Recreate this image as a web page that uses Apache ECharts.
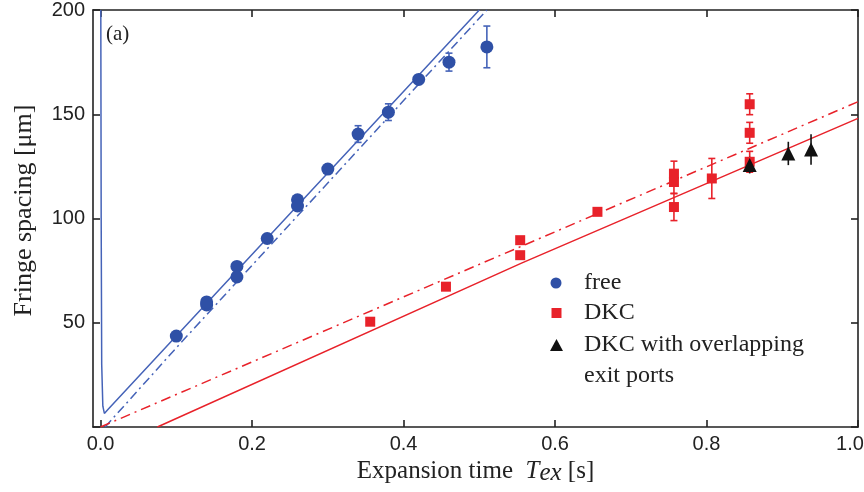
<!DOCTYPE html>
<html>
<head>
<meta charset="utf-8">
<script src="https://cdn.jsdelivr.net/npm/echarts@6/dist/echarts.min.js"></script>
<style>
html,body{margin:0;padding:0;background:#fff;}
#c{width:864px;height:492px;}
</style>
</head>
<body>
<div id="c"></div>
<script>
// ---- data ----
const xTicks = [0, 0.2, 0.4, 0.6, 0.8, 1.0];
const yTicks = [50, 100, 150, 200];

// free (blue circles)
const freeT   = [0.10, 0.14, 0.14, 0.18, 0.18, 0.22, 0.26, 0.26, 0.30, 0.34, 0.38, 0.42, 0.46, 0.51];
const freeY   = [43.6, 58.5, 60.0, 77.0, 72.0, 90.4, 109.0, 106.0, 123.7, 140.5, 151.0, 166.7, 175.0, 182.3];
const freeErr = [1.0, 1.5, 1.5, 1.5, 1.5, 1.5, 1.5, 1.5, 1.0, 4.0, 4.0, 1.5, 4.3, 10.0];

// DKC (red squares)
const dkcT   = [0.356, 0.456, 0.554, 0.554, 0.656, 0.757, 0.757, 0.757, 0.807, 0.857, 0.857, 0.857];
const dkcY   = [50.5, 67.3, 89.6, 82.4, 103.2, 121.5, 117.5, 105.5, 119.2, 154.8, 141.1, 127.2];
const dkcErr = [1.5, 1.5, 1.5, 1.0, 1.0, 6.0, 5.5, 6.5, 9.6, 5.0, 5.0, 5.0];

// DKC with overlapping exit ports (black triangles)
const overT   = [0.857, 0.908, 0.938];
const overY   = [125.6, 131.2, 133.1];
const overErr = [4.0, 5.6, 7.3];

// theory curves
const freeFitT  = [0.0003, 0.0008, 0.0015, 0.003, 0.005, 0.01, 0.5];
const freeFitY  = [200, 100, 30, 10, 6.5, 8.5, 200];
const freeFit2T = [0.006, 0.105, 0.51];
const freeFit2Y = [0, 40, 200];
const dkcFitT   = [0.075, 0.555, 1.0];
const dkcFitY   = [0, 78.5, 148];
const dkcFit2T  = [0.0, 1.0];
const dkcFit2Y  = [0, 156];

// ---- build ----
const zip = (a, b) => a.map((v, i) => [v, b[i]]);
const zip3 = (a, b, c) => a.map((v, i) => [v, b[i], c[i]]);

const BLUE = '#2f50a6', BLUE_L = '#4563b8', RED = '#e8222a', BLACK = '#111';
const SERIF = '"Liberation Serif","DejaVu Serif",serif';
const SANS = '"Liberation Sans",Arial,sans-serif';
const AX = '#222';

function errBar(color, cap) {
  return function (params, api) {
    const x = api.value(0), y = api.value(1), e = api.value(2);
    const p = api.coord([x, y - e]), q = api.coord([x, y + e]);
    const st = { stroke: color, lineWidth: 1.6 };
    const ch = [{ type: 'line', shape: { x1: p[0], y1: p[1], x2: q[0], y2: q[1] }, style: st }];
    if (cap > 0) {
      ch.push({ type: 'line', shape: { x1: p[0] - cap, y1: p[1], x2: p[0] + cap, y2: p[1] }, style: st });
      ch.push({ type: 'line', shape: { x1: q[0] - cap, y1: q[1], x2: q[0] + cap, y2: q[1] }, style: st });
    }
    return { type: 'group', children: ch };
  };
}

const axisLine = { show: true, onZero: false, lineStyle: { color: AX, width: 1.6 } };
const tickStyle = { color: AX, width: 1.6 };

const option = {
  animation: false,
  backgroundColor: '#fff',
  grid: { left: 93, right: 6, top: 10, bottom: 65, outerBoundsMode: 'none' },
  xAxis: [
    {
      type: 'value', min: -0.01, max: 1.0, position: 'bottom',
      axisLine: axisLine,
      axisTick: { inside: true, length: 7, customValues: xTicks, lineStyle: tickStyle },
      axisLabel: {
        customValues: xTicks,
        formatter: v => (v >= 0.999 ? '{r|' + v.toFixed(1) + '}' : v.toFixed(1)),
        fontSize: 20, color: AX, fontFamily: SANS, margin: 7,
        rich: { r: { fontSize: 20, color: AX, fontFamily: SANS, padding: [0, 16, 0, 0] } }
      },
      splitLine: { show: false },
      name: '{n|Expansion time  }{i|T}{j|ex}{n| [s]}',
      nameLocation: 'middle', nameGap: 30,
      nameTextStyle: {
        rich: {
          n: { fontSize: 25, fontFamily: SERIF, color: AX },
          i: { fontSize: 25, fontFamily: SERIF, fontStyle: 'italic', color: AX },
          j: { fontSize: 25, fontFamily: SERIF, fontStyle: 'italic', color: AX, padding: [4, 0, 0, 0] }
        }
      }
    },
    {
      type: 'value', min: -0.01, max: 1.0, position: 'top',
      axisLine: axisLine,
      axisTick: { inside: true, length: 7, customValues: xTicks, lineStyle: tickStyle },
      axisLabel: { show: false },
      splitLine: { show: false }
    }
  ],
  yAxis: [
    {
      type: 'value', min: 0, max: 200, interval: 50, position: 'left',
      axisLine: axisLine,
      axisTick: { inside: true, length: 7, lineStyle: tickStyle },
      axisLabel: { formatter: v => (v === 0 ? '' : String(v)), fontSize: 20, color: AX, fontFamily: SANS, margin: 8 },
      splitLine: { show: false },
      name: 'Fringe spacing [μm]', nameLocation: 'middle', nameGap: 56,
      nameTextStyle: { fontSize: 26, fontFamily: SERIF, color: AX, padding: [0, 0, 0, 16] }
    },
    {
      type: 'value', min: 0, max: 200, interval: 50, position: 'right',
      axisLine: axisLine,
      axisTick: { inside: true, length: 7, lineStyle: tickStyle },
      axisLabel: { show: false },
      splitLine: { show: false }
    }
  ],
  series: [
    { type: 'line', data: zip(freeFitT, freeFitY), showSymbol: false, symbol: 'none', lineStyle: { color: BLUE_L, width: 1.5 }, z: 2, silent: true },
    { type: 'line', data: zip(freeFit2T, freeFit2Y), showSymbol: false, symbol: 'none', lineStyle: { color: BLUE_L, width: 1.5, type: [9, 4, 2, 4] }, z: 2, silent: true },
    { type: 'line', data: zip(dkcFitT, dkcFitY), showSymbol: false, symbol: 'none', lineStyle: { color: RED, width: 1.5 }, z: 2, silent: true },
    { type: 'line', data: zip(dkcFit2T, dkcFit2Y), showSymbol: false, symbol: 'none', lineStyle: { color: RED, width: 1.5, type: [10, 5, 2, 5] }, z: 2, silent: true },

    { type: 'custom', data: zip3(freeT, freeY, freeErr), renderItem: errBar(BLUE_L, 3.5), clip: true, z: 3 },
    { type: 'custom', data: zip3(dkcT, dkcY, dkcErr), renderItem: errBar(RED, 3.5), clip: true, z: 3 },
    { type: 'custom', data: zip3(overT, overY, overErr), renderItem: errBar(BLACK, 0), clip: true, z: 3 },

    { type: 'scatter', name: 'free', data: zip(freeT, freeY), symbol: 'circle', symbolSize: 13, itemStyle: { color: BLUE, opacity: 1 }, z: 4 },
    { type: 'scatter', name: 'DKC', data: zip(dkcT, dkcY), symbol: 'rect', symbolSize: 10, itemStyle: { color: RED, opacity: 1 }, z: 4 },
    { type: 'scatter', name: 'DKC with overlapping exit ports', data: zip(overT, overY), symbol: 'triangle', symbolSize: 14, itemStyle: { color: BLACK, opacity: 1 }, z: 5 }
  ],
  graphic: [
    { type: 'text', left: 106, top: 24, style: { text: '(a)', font: '21px ' + SERIF, fill: AX } },
    { type: 'circle', shape: { cx: 556, cy: 283, r: 5.5 }, style: { fill: BLUE } },
    { type: 'rect', shape: { x: 551.5, y: 308, width: 10, height: 10 }, style: { fill: RED } },
    { type: 'polygon', shape: { points: [[556.5, 339], [563, 351], [550, 351]] }, style: { fill: BLACK } },
    { type: 'text', x: 584, y: 283, style: { text: 'free', font: '24px ' + SERIF, fill: AX, verticalAlign: 'middle' } },
    { type: 'text', x: 584, y: 313, style: { text: 'DKC', font: '24px ' + SERIF, fill: AX, verticalAlign: 'middle' } },
    { type: 'text', x: 584, y: 345, style: { text: 'DKC with overlapping', font: '24px ' + SERIF, fill: AX, verticalAlign: 'middle' } },
    { type: 'text', x: 584, y: 376, style: { text: 'exit ports', font: '24px ' + SERIF, fill: AX, verticalAlign: 'middle' } }
  ]
};

const chart = echarts.init(document.getElementById('c'), null, { renderer: 'canvas' });
chart.setOption(option);
</script>
</body>
</html>
